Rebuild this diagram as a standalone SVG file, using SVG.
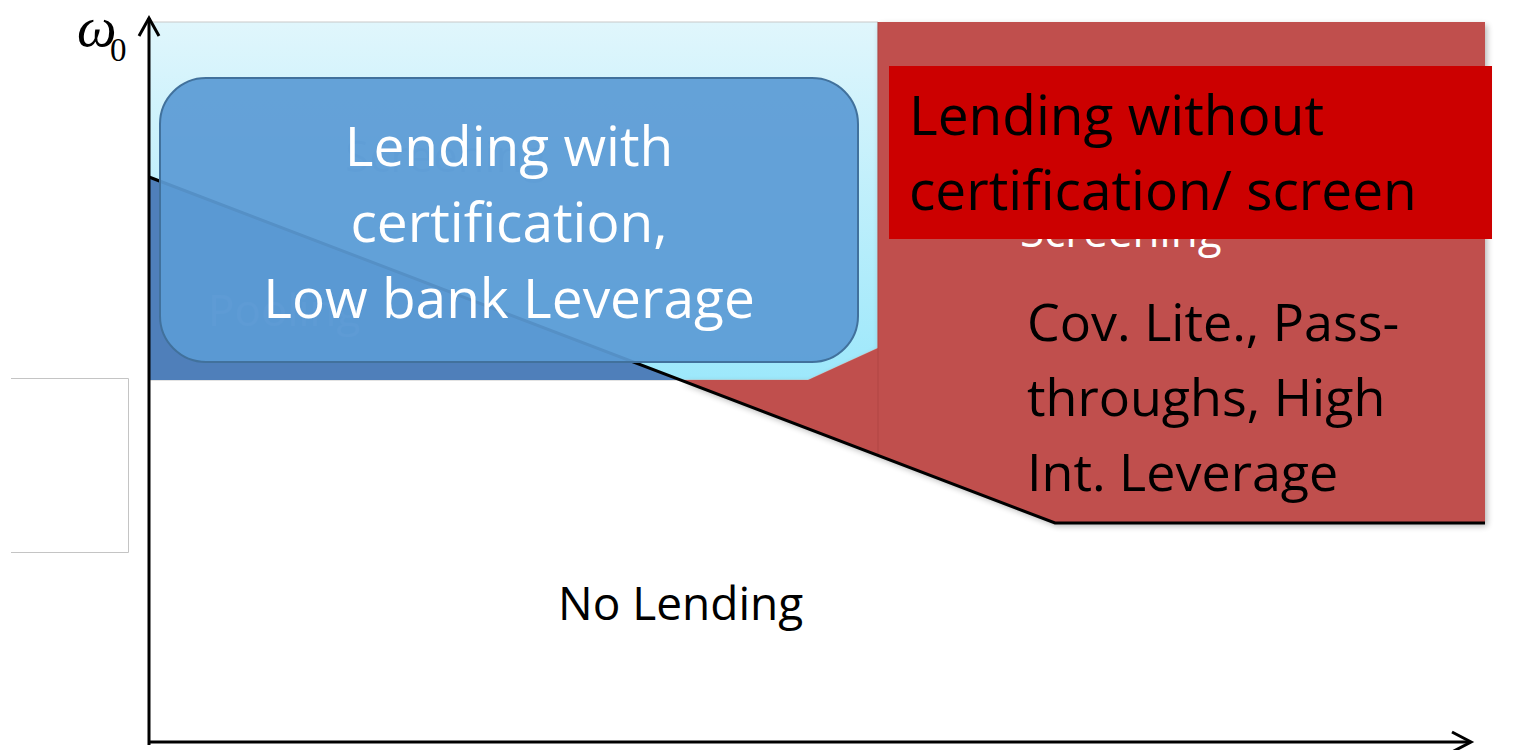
<svg xmlns="http://www.w3.org/2000/svg" width="1527" height="750" viewBox="0 0 1527 750">
<style>
.lbl{font-family:"Open Sans",Lato,"Liberation Sans",sans-serif;}
.w{fill:#ffffff;}
.k{fill:#000000;}
.axis{stroke:#000;stroke-width:3;fill:none;}
</style>
<defs>
<linearGradient id="lb" x1="0" y1="0" x2="0" y2="1">
<stop offset="0" stop-color="#e0f6fc"/>
<stop offset="1" stop-color="#9de8fb"/>
</linearGradient>
<filter id="sh" x="-5%" y="-5%" width="115%" height="115%">
<feGaussianBlur in="SourceAlpha" stdDeviation="3"/>
<feOffset dx="2" dy="3"/>
<feComponentTransfer><feFuncA type="linear" slope="0.3"/></feComponentTransfer>
<feMerge><feMergeNode/><feMergeNode in="SourceGraphic"/></feMerge>
</filter>
</defs>
<rect width="1527" height="750" fill="#ffffff"/>
<g id="regions">
<polygon points="149,22 878,22 878,348 808,380 149,380" fill="url(#lb)" stroke="#c8c8c8" stroke-width="1"/>
<polygon points="149,177 680,380 149,380" fill="#4f7fba"/>
<polygon points="878,22 1485,22 1485,523 1055,523 680,380 808,380 878,348" fill="#c0504d" filter="url(#sh)"/>
<line x1="878" y1="22" x2="878" y2="455" stroke="#b04744" stroke-width="1"/>
<text class="lbl" x="208" y="326" font-size="44" fill="#ffffff" opacity="0.25">Pooling</text>
<text class="lbl" x="345" y="172" font-size="44" fill="#4f81bd" opacity="0.35">Screening</text>
<text class="lbl" x="1020" y="247" font-size="44" fill="#ffffff">Screening</text>
</g>
<g id="connectors">
<polyline points="149,177 1055,523 1485,523" fill="none" stroke="#000" stroke-width="3"/>
<line class="axis" x1="149" y1="745" x2="149" y2="18"/>
<polyline class="axis" points="139,36 149,18 159,36"/>
<line class="axis" x1="148" y1="742" x2="1470" y2="742"/>
<polyline class="axis" points="1452,732 1471,742 1452,752"/>
</g>
<g id="axis-label">
<text x="77" y="46" font-family="Liberation Serif,serif" font-style="italic" font-size="56" fill="#000">ω</text>
<text x="110" y="61" font-family="Liberation Serif,serif" font-size="33" fill="#000">0</text>
</g>
<g id="legend-box">
<path d="M11,378.5 H128.5 V552.5 H11" fill="none" stroke="#c4c4c4" stroke-width="1"/>
</g>
<g id="node-certification">
<rect x="160" y="78" width="698" height="284" rx="46" ry="46" fill="#5b9bd5" fill-opacity="0.93" stroke="#41719c" stroke-width="2"/>
<text class="lbl w" x="509" y="166" font-size="55" text-anchor="middle">Lending with</text>
<text class="lbl w" x="509" y="242" font-size="55" text-anchor="middle">certification,</text>
<text class="lbl w" x="509" y="318" font-size="55" text-anchor="middle">Low bank Leverage</text>
</g>
<g id="node-without">
<rect x="889" y="66" width="603" height="173" fill="#cc0000"/>
<text class="lbl k" x="909" y="135" font-size="55">Lending without</text>
<text class="lbl k" x="909" y="210" font-size="55">certification/ screen</text>
</g>
<g id="node-covlite">
<text class="lbl k" x="1027" y="341" font-size="52">Cov. Lite., Pass-</text>
<text class="lbl k" x="1027" y="416" font-size="52">throughs, High</text>
<text class="lbl k" x="1027" y="491" font-size="52">Int. Leverage</text>
</g>
<g id="node-nolending">
<text class="lbl k" x="558" y="620" font-size="46">No Lending</text>
</g>
</svg>
